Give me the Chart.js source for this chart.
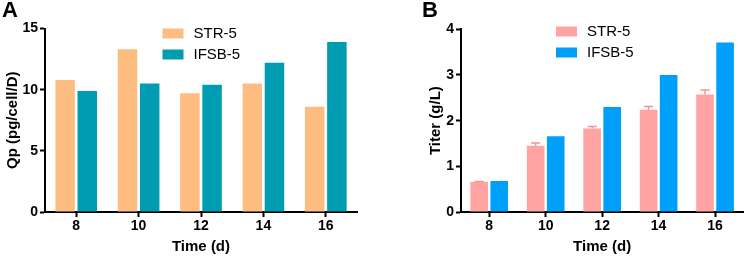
<!DOCTYPE html>
<html>
<head>
<meta charset="utf-8">
<title>Qp and titer</title>
<script src="https://cdn.jsdelivr.net/npm/chart.js@4/dist/chart.umd.min.js"></script>
<style>
  html, body { margin: 0; padding: 0; background: #fff; }
  #wrap { position: relative; width: 747px; height: 257px; overflow: hidden; }
  canvas { position: absolute; top: 0; }
  #chart-a { left: 0; }
  #chart-b { left: 416px; }
  .letter {
    position: absolute; top: -1px;
    font: bold 22px "Liberation Sans", Arial, sans-serif;
    line-height: 1; color: #000;
  }
</style>
</head>
<body>
<div id="wrap">
  <canvas id="chart-a" width="370" height="257"></canvas>
  <canvas id="chart-b" width="331" height="257"></canvas>
  <div class="letter" style="left:2px">A</div>
  <div class="letter" style="left:422px">B</div>
</div>
<script>
(function () {
  "use strict";

  // ---------- data ----------
  var days = ["8", "10", "12", "14", "16"];
  var seriesNames = ["STR-5", "IFSB-5"];

  // panel A: specific productivity
  var qpStr = [10.8, 13.3, 9.7, 10.5, 8.6];
  var qpIfsb = [9.9, 10.5, 10.4, 12.2, 13.9];
  var qpTicks = [0, 5, 10, 15];

  // panel B: titer, STR-5 has upward error bars
  var titerStr = [0.66, 1.45, 1.83, 2.24, 2.57];
  var titerStrErr = [0.01, 0.06, 0.04, 0.07, 0.10];
  var titerIfsb = [0.68, 1.66, 2.30, 3.00, 3.71];
  var titerTicks = [0, 1, 2, 3, 4];

  var FONT = "'Liberation Sans', Arial, Helvetica, sans-serif";

  // ---------- plugins ----------
  // Legend drawn inside the plot area, like the original figure.
  var insideLegend = {
    id: "insideLegend",
    afterDraw: function (chart, args, o) {
      var ctx = chart.ctx;
      ctx.save();
      ctx.font = "15px " + FONT;
      ctx.textBaseline = "middle";
      ctx.textAlign = "left";
      chart.data.datasets.forEach(function (ds, i) {
        var y = o.y + i * o.rowGap;
        ctx.fillStyle = ds.backgroundColor;
        ctx.fillRect(o.x, y, o.boxW, o.boxH);
        ctx.fillStyle = "#000";
        ctx.fillText(ds.label, o.x + o.textGap, y + o.boxH / 2 + 0.5);
      });
      ctx.restore();
    },
  };

  // Upward-only error bars, positioned through the chart's own scale.
  var errorBars = {
    id: "errorBars",
    afterDatasetsDraw: function (chart, args, o) {
      if (!o.errors) return;
      var ctx = chart.ctx;
      var yScale = chart.scales.y;
      var ds = chart.data.datasets[o.datasetIndex];
      var meta = chart.getDatasetMeta(o.datasetIndex);
      ctx.save();
      ctx.strokeStyle = o.color;
      ctx.lineWidth = 1.5;
      meta.data.forEach(function (bar, i) {
        var top = yScale.getPixelForValue(ds.data[i] + o.errors[i]);
        ctx.beginPath();
        ctx.moveTo(bar.x, bar.y);
        ctx.lineTo(bar.x, top);
        ctx.moveTo(bar.x - o.capW / 2, top);
        ctx.lineTo(bar.x + o.capW / 2, top);
        ctx.stroke();
      });
      ctx.restore();
    },
  };

  function axisBase() {
    return {
      grid: {
        display: true,
        drawOnChartArea: false,
        offset: false,
        tickLength: 5,
        tickWidth: 2,
        tickColor: "#000",
        color: "#000",
      },
      border: { color: "#000", width: 2 },
      ticks: {
        color: "#000",
        padding: 2,
        font: { family: FONT, size: 14, weight: "bold" },
      },
    };
  }

  function buildChart(canvasId, cfg) {
    var x = axisBase();
    x.offset = true;
    x.ticks.maxRotation = 0;
    x.ticks.padding = 1;
    x.title = {
      display: true, text: "Time (d)", color: "#000",
      font: { family: FONT, size: 15, weight: "bold" },
      padding: { top: 0, bottom: 1.5 },
    };
    x.afterFit = function (s) { s.height = 45; };

    var y = axisBase();
    y.min = cfg.ticks[0];
    y.max = cfg.ticks[cfg.ticks.length - 1];
    y.ticks.stepSize = cfg.ticks[1] - cfg.ticks[0];
    y.title = {
      display: true, text: cfg.yTitle, color: "#000",
      font: { family: FONT, size: 15, weight: "bold" },
      padding: { top: cfg.yTitlePad, bottom: 0 },
    };
    y.afterFit = function (s) { s.width = 45; };

    return new Chart(document.getElementById(canvasId).getContext("2d"), {
      type: "bar",
      data: {
        labels: days,
        datasets: [
          { label: seriesNames[0], data: cfg.a, backgroundColor: cfg.colors[0] },
          { label: seriesNames[1], data: cfg.b, backgroundColor: cfg.colors[1] },
        ].map(function (d) {
          d.categoryPercentage = 0.71;
          d.barPercentage = 0.88;
          d.borderWidth = 0;
          return d;
        }),
      },
      options: {
        responsive: false,
        animation: false,
        layout: { padding: { left: 0, right: cfg.padRight, top: cfg.padTop, bottom: 0 } },
        plugins: {
          legend: { display: false },
          tooltip: { enabled: false },
          insideLegend: cfg.legend,
          errorBars: cfg.err || {},
        },
        scales: { x: x, y: y },
      },
      plugins: [insideLegend, errorBars],
    });
  }

  buildChart("chart-a", {
    a: qpStr, b: qpIfsb, ticks: qpTicks,
    yTitle: "Qp (pg/cell/D)", yTitlePad: 4,
    colors: ["#fdbd80", "#009db2"],
    padTop: 28.5, padRight: 13,
    legend: { x: 162.5, y: 28.5, boxW: 21, boxH: 10, rowGap: 21, textGap: 31 },
  });

  buildChart("chart-b", {
    a: titerStr, b: titerIfsb, ticks: titerTicks,
    yTitle: "Titer (g/L)", yTitlePad: 11,
    colors: ["#ffa3a3", "#00a0fa"],
    padTop: 29.3, padRight: 3.7,
    legend: { x: 140, y: 26.5, boxW: 21, boxH: 10, rowGap: 21, textGap: 31 },
    err: { datasetIndex: 0, errors: titerStrErr, color: "#f39393", capW: 9 },
  });
})();
</script>
</body>
</html>
